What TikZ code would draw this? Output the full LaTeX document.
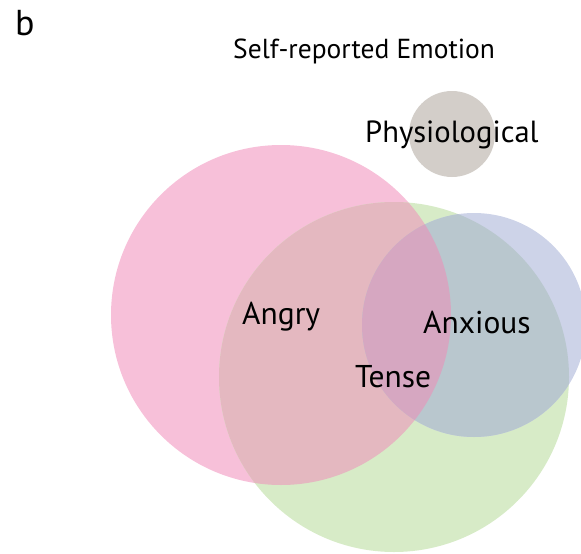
\documentclass[tikz,border=0pt]{standalone}
\usepackage{fontspec}
\setmainfont{PT Sans}
\usepackage{tikz}

\definecolor{angryc}{HTML}{F7C0D9}
\definecolor{tensec}{HTML}{D7EBC7}
\definecolor{anxc}{HTML}{CDD3E8}
\definecolor{angtens}{HTML}{E4B8C0}
\definecolor{anxtens}{HTML}{B9C7CE}
\definecolor{allthree}{HTML}{D6A7C1}
\definecolor{physc}{HTML}{D3CEC9}

\tikzset{
  lbl/.style={anchor=base west, inner sep=0pt, text=black, font=\fontsize{31.5}{33}\selectfont},
}

\begin{document}
\begin{tikzpicture}[x=1pt,y=-1pt]
\useasboundingbox (0,0) rectangle (581,554);

%%%%%%%%%%%%%%%%%%%
% The circles

\fill [angryc] (281,315) circle [radius=170pt];
\fill [tensec] (394,377) circle [radius=175pt];
\fill [anxc] (474,325) circle [radius=112pt];

\begin{scope}
\clip (281,315) circle [radius=170pt];
\fill [angtens] (394,377) circle [radius=175pt];
\end{scope}

\begin{scope}
\clip (474,325) circle [radius=112pt];
\fill [anxtens] (394,377) circle [radius=175pt];
\clip (281,315) circle [radius=170pt];
\fill [allthree] (474,325) circle [radius=112pt];
\end{scope}

\fill [physc] (452,134) circle [radius=43pt];

%%%%%%%%%%%%%%%%%%%%
% Labels

\node [lbl, font=\fontsize{36}{38}\selectfont] (panel) at (15,35) {b};
\node [lbl, font=\fontsize{27.5}{30}\selectfont] (title) at (233,58) {Self-reported Emotion};
\node [lbl, font=\fontsize{30.6}{33}\selectfont] (phys) at (365,142) {Physiological};
\node [lbl] (angry) at (242,324) {Angry};
\node [lbl] (anxious) at (423,333) {Anxious};
\node [lbl] (tense) at (355,387) {Tense};

\end{tikzpicture}
\end{document}
